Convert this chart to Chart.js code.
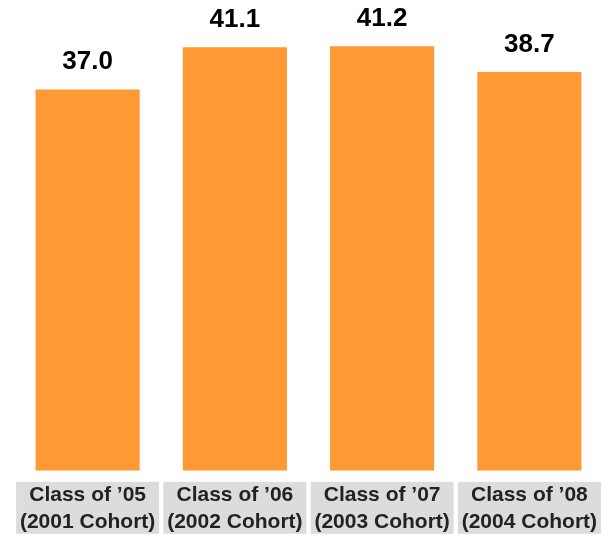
<!DOCTYPE html>
<html>
<head>
<meta charset="utf-8">
<script src="https://cdn.jsdelivr.net/npm/chart.js@4/dist/chart.umd.min.js"></script>
<style>
  html, body { margin: 0; padding: 0; background: #fff; }
  #wrap { width: 612px; height: 536px; }
</style>
</head>
<body>
<div id="wrap"><canvas id="chart"></canvas></div>
<script>
const classes = ["Class of \u201905", "Class of \u201906", "Class of \u201907", "Class of \u201908"];
const cohorts = ["(2001 Cohort)", "(2002 Cohort)", "(2003 Cohort)", "(2004 Cohort)"];
const values = [37.0, 41.1, 41.2, 38.7];

const FONT = "'Liberation Sans', Arial, Helvetica, sans-serif";

// gray box behind each category label
const labelBoxes = {
  id: "labelBoxes",
  beforeDraw(chart) {
    const ctx = chart.ctx;
    const x = chart.scales.x;
    const top = chart.chartArea.bottom + 11;
    ctx.save();
    ctx.fillStyle = "#dcdcdc";
    x.ticks.forEach((t, i) => {
      const cx = x.getPixelForTick(i);
      ctx.fillRect(cx - 71.5, top, 143, 52);
    });
    ctx.restore();
  }
};

// value on top of each bar
const valueLabels = {
  id: "valueLabels",
  afterDatasetsDraw(chart) {
    const ctx = chart.ctx;
    const meta = chart.getDatasetMeta(0);
    ctx.save();
    ctx.font = "bold 26px " + FONT;
    ctx.fillStyle = "#000";
    ctx.textAlign = "center";
    ctx.textBaseline = "alphabetic";
    meta.data.forEach((bar, i) => {
      ctx.fillText(values[i].toFixed(1), bar.x, bar.y - 20);
    });
    ctx.restore();
  }
};

new Chart(document.getElementById("chart"), {
  type: "bar",
  data: {
    labels: classes.map((c, i) => [c, cohorts[i]]),
    datasets: [{
      data: values,
      backgroundColor: "#ff9933",
      borderWidth: 0,
      categoryPercentage: 1,
      barPercentage: 0.707
    }]
  },
  options: {
    responsive: true,
    maintainAspectRatio: false,
    animation: false,
    layout: { padding: { top: 7, left: 14, right: 9, bottom: -11 } },
    plugins: {
      legend: { display: false },
      tooltip: { enabled: false }
    },
    scales: {
      x: {
        grid: { display: false, drawTicks: false },
        border: { display: false },
        ticks: {
          padding: 11,
          color: "#222",
          maxRotation: 0,
          autoSkip: false,
          font: { family: FONT, size: 21, weight: "bold", lineHeight: 1.29 }
        }
      },
      y: {
        display: false,
        min: 0,
        max: 45
      }
    }
  },
  plugins: [labelBoxes, valueLabels]
});
</script>
</body>
</html>
